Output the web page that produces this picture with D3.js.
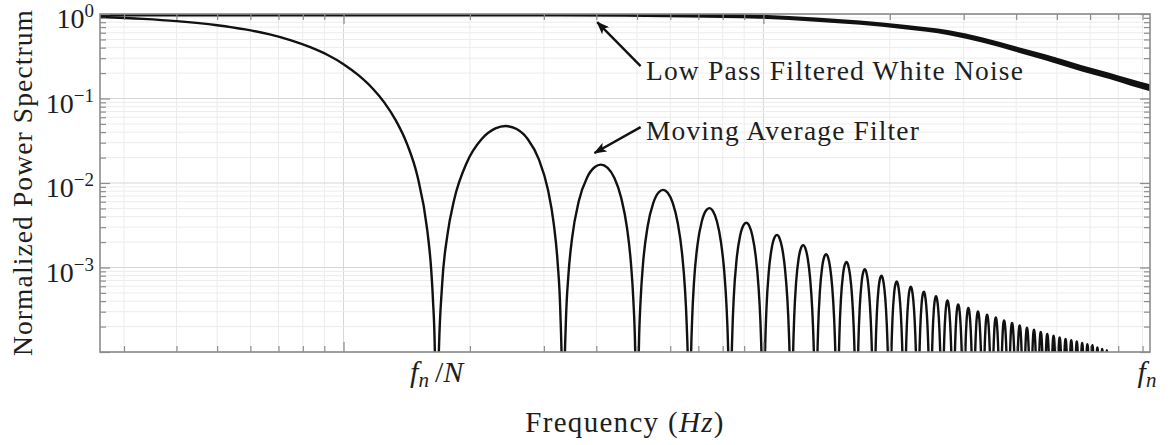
<!DOCTYPE html>
<html>
<head>
<meta charset="utf-8">
<script src="https://cdn.jsdelivr.net/npm/d3@7"></script>
<style>
  body { margin: 0; background: #fff; }
  text { font-family: "Liberation Serif", "Times New Roman", serif; fill: #1e1e1e; }
</style>
</head>
<body>
<div id="chart"></div>
<script>
const margin = { top: 14, right: 22, bottom: 93, left: 100 };
const width = 1172 - margin.left - margin.right,
      height = 445 - margin.top - margin.bottom;

// frequency axis (f_n is the right edge, first null of the moving average at f_n/N)
const freqMin = 0.263;
const fn = 83.33;
const fnOverN = 1.667;

const yTickValues = [1, 0.1, 0.01, 0.001];
const yTickExps = ['0', '\u22121', '\u22122', '\u22123'];

// low pass filtered white noise, upper / lower edge of the thick trace
const noiseFreq = [0.263, 3.27, 6.67, 9.78, 13.33, 17, 21.67, 27.67, 33.33, 39.83, 46.67, 57.33, 66.67, 75, 83.33];
const noiseHigh = [1.036, 1.031, 1.012, 0.983, 0.911, 0.839, 0.745, 0.641, 0.526, 0.415, 0.336, 0.248, 0.202, 0.170, 0.147];
const noiseLow  = [0.936, 0.932, 0.911, 0.880, 0.812, 0.744, 0.658, 0.561, 0.456, 0.357, 0.286, 0.209, 0.170, 0.142, 0.122];

// moving average filter: main lobe read point by point
const mainLobeFreq  = [0.263, 0.333, 0.4, 0.5, 0.583, 0.667, 0.75, 0.833, 0.917, 1.0, 1.083, 1.167, 1.25, 1.333, 1.417, 1.5, 1.583, 1.617, 1.633, 1.65, 1.667];
const mainLobePower = [0.921, 0.875, 0.824, 0.737, 0.657, 0.573, 0.488, 0.405, 0.327, 0.255, 0.190, 0.135, 0.090, 0.0547, 0.0289, 0.0120, 0.00275, 0.000954, 0.000416, 0.000102, 1e-6];

// side lobes: peak of lobe k (between nulls k and k+1, in units of f_n/N)
const lobePeaks = [0.0472, 0.0165, 0.0083, 0.00504, 0.00338, 0.00243, 0.00184, 0.00144, 0.00116, 0.000953,
  0.00080, 0.000683, 0.000591, 0.000517, 0.000457, 0.000407, 0.000366, 0.000332, 0.000302, 0.000277,
  0.000256, 0.000237, 0.000221, 0.000206, 0.000194, 0.000183, 0.000173, 0.000164, 0.000156, 0.000149,
  0.000143, 0.000138, 0.000133, 0.000128, 0.000124, 0.000120, 0.000113, 0.000109, 0.000105, 0.000095,
  0.000095, 0.000095, 0.000095, 0.000095, 0.000095, 0.000095, 0.000095, 0.000095, 0.000095];
// shape of one side lobe: position between its nulls and level relative to its peak
const lobeT     = [0, 0.01, 0.03, 0.06, 0.1, 0.18, 0.28, 0.38, 0.46, 0.55, 0.65, 0.75, 0.84, 0.9, 0.94, 0.97, 0.99];
const lobeLevel = [1e-5, 0.0015, 0.0132, 0.0508, 0.133, 0.371, 0.701, 0.937, 1, 0.921, 0.694, 0.406, 0.177, 0.0697, 0.025, 0.0062, 0.00068];

// annotations: arrow tail and tip, text anchor (freq, level)
const annotations = [
  { label: 'Low Pass Filtered White Noise', tail: [5.10, 0.242], tip: [4.02, 0.80], at: [5.25, 0.165], len: 377 },
  { label: 'Moving Average Filter', tail: [5.10, 0.0458], tip: [3.96, 0.0226], at: [5.25, 0.0322], len: 273 }
];

const x = d3.scaleLog().domain([freqMin, fn]).range([0, width]);
const y = d3.scaleLog().domain([1e-4, 1]).range([height, 0]);

const svg = d3.select('#chart').append('svg')
  .attr('width', width + margin.left + margin.right)
  .attr('height', height + margin.top + margin.bottom);

const defs = svg.append('defs');
defs.append('clipPath').attr('id', 'plot-clip')
  .append('rect').attr('width', width).attr('height', height);
defs.append('marker')
  .attr('id', 'arrow')
  .attr('viewBox', '0 0 13 10')
  .attr('refX', 12).attr('refY', 5)
  .attr('markerWidth', 13).attr('markerHeight', 10)
  .attr('markerUnits', 'userSpaceOnUse')
  .attr('orient', 'auto')
  .append('path').attr('d', 'M0,0 L13,5 L0,10 L3,5 Z').attr('fill', '#111');

const g = svg.append('g')
  .attr('transform', 'translate(' + margin.left + ',' + margin.top + ')');

const isDecade = v => Math.abs(Math.log10(v) - Math.round(Math.log10(v))) < 1e-6;
const xTicks = x.ticks();
const yTicks = y.ticks();

// grid
const grid = g.append('g').attr('class', 'grid');
grid.selectAll('line.xg').data(xTicks).join('line')
  .attr('x1', d => x(d)).attr('x2', d => x(d))
  .attr('y1', 0).attr('y2', height)
  .attr('stroke', d => isDecade(d) ? '#d6d6d6' : '#ececec');
grid.selectAll('line.yg').data(yTicks).join('line')
  .attr('y1', d => y(d)).attr('y2', d => y(d))
  .attr('x1', 0).attr('x2', width)
  .attr('stroke', d => isDecade(d) ? '#d6d6d6' : '#ececec');

// curves
const plot = g.append('g').attr('clip-path', 'url(#plot-clip)');

const noise = noiseFreq.map((f, i) => ({ f: f, hi: noiseHigh[i], lo: noiseLow[i] }));
plot.append('path')
  .datum(noise)
  .attr('fill', '#111')
  .attr('d', d3.area()
    .x(d => x(d.f))
    .y0(d => y(d.lo))
    .y1(d => y(d.hi))
    .curve(d3.curveMonotoneX));

const maPoints = mainLobeFreq.map((f, i) => ({ f: f, p: mainLobePower[i] }));
lobePeaks.forEach((peak, i) => {
  const k = i + 1;
  lobeT.forEach((t, j) => {
    if (k === 1 && j === 0) return;
    maPoints.push({ f: (k + t) * fnOverN, p: peak * lobeLevel[j] });
  });
});
maPoints.push({ f: fn, p: 1e-9 });

plot.append('path')
  .datum(maPoints)
  .attr('fill', 'none')
  .attr('stroke', '#111')
  .attr('stroke-width', 2.4)
  .attr('stroke-linejoin', 'round')
  .attr('d', d3.line()
    .x(d => x(d.f))
    .y(d => y(d.p))
    .curve(d3.curveMonotoneX));

// frame and inward ticks
g.append('rect')
  .attr('width', width).attr('height', height)
  .attr('fill', 'none').attr('stroke', '#8c8c8c').attr('stroke-width', 1.6);

function ticks(axisFn, scale, values, size, transform) {
  g.append('g')
    .attr('transform', transform)
    .call(axisFn(scale).tickValues(values).tickSize(-size).tickFormat(''))
    .call(a => a.select('.domain').remove())
    .call(a => a.selectAll('line').attr('stroke', '#8c8c8c').attr('stroke-width', 1.2));
}
const xMajor = xTicks.filter(isDecade), xMinor = xTicks.filter(d => !isDecade(d));
const yMajor = yTicks.filter(isDecade), yMinor = yTicks.filter(d => !isDecade(d));
ticks(d3.axisBottom, x, xMajor, 10, 'translate(0,' + height + ')');
ticks(d3.axisBottom, x, xMinor, 6, 'translate(0,' + height + ')');
ticks(d3.axisTop, x, xMajor, 10, 'translate(0,0)');
ticks(d3.axisTop, x, xMinor, 6, 'translate(0,0)');
ticks(d3.axisLeft, y, yMajor, 10, 'translate(0,0)');
ticks(d3.axisLeft, y, yMinor, 6, 'translate(0,0)');
ticks(d3.axisRight, y, yMajor, 10, 'translate(' + width + ',0)');
ticks(d3.axisRight, y, yMinor, 6, 'translate(' + width + ',0)');

// y tick labels 10^k
const yLabels = g.append('g').selectAll('text')
  .data(yTickValues).join('text')
  .attr('x', -6)
  .attr('y', d => y(d) + 14)
  .attr('text-anchor', 'end')
  .style('font-size', '28px');
yLabels.append('tspan').text('10');
yLabels.append('tspan').attr('dy', -11).style('font-size', '19px').text((d, i) => yTickExps[i]);

// x tick labels
const fnNLabel = g.append('text')
  .attr('x', x(fnOverN)).attr('y', height + 30)
  .attr('text-anchor', 'middle')
  .style('font-size', '30px');
fnNLabel.append('tspan').style('font-style', 'italic').text('f');
fnNLabel.append('tspan').attr('dy', 5).style('font-size', '21px').style('font-style', 'italic').text('n');
fnNLabel.append('tspan').attr('dy', -5).text('\u2009/');
fnNLabel.append('tspan').style('font-style', 'italic').text('N');

const fnLabel = g.append('text')
  .attr('x', x(fn) - 3).attr('y', height + 30)
  .attr('text-anchor', 'middle')
  .style('font-size', '30px');
fnLabel.append('tspan').style('font-style', 'italic').text('f');
fnLabel.append('tspan').attr('dy', 5).style('font-size', '21px').style('font-style', 'italic').text('n');

// axis titles
const xTitle = g.append('text')
  .attr('x', width / 2).attr('y', height + 80)
  .attr('text-anchor', 'middle')
  .style('font-size', '29px')
  .style('letter-spacing', '1.3px');
xTitle.append('tspan').text('Frequency (');
xTitle.append('tspan').style('font-style', 'italic').text('Hz');
xTitle.append('tspan').text(')');

g.append('text')
  .attr('transform', 'translate(-68,' + (height / 2) + ') rotate(-90)')
  .attr('text-anchor', 'middle')
  .attr('textLength', 346)
  .attr('lengthAdjust', 'spacing')
  .style('font-size', '27.5px')
  .text('Normalized Power Spectrum');

// annotations
const notes = g.append('g').attr('class', 'annotations');
notes.selectAll('line').data(annotations).join('line')
  .attr('x1', d => x(d.tail[0])).attr('y1', d => y(d.tail[1]))
  .attr('x2', d => x(d.tip[0])).attr('y2', d => y(d.tip[1]))
  .attr('stroke', '#111').attr('stroke-width', 2.4)
  .attr('marker-end', 'url(#arrow)');
notes.selectAll('text').data(annotations).join('text')
  .attr('x', d => x(d.at[0])).attr('y', d => y(d.at[1]))
  .attr('textLength', d => d.len)
  .attr('lengthAdjust', 'spacing')
  .style('font-size', '27.5px')
  .text(d => d.label);
</script>
</body>
</html>
